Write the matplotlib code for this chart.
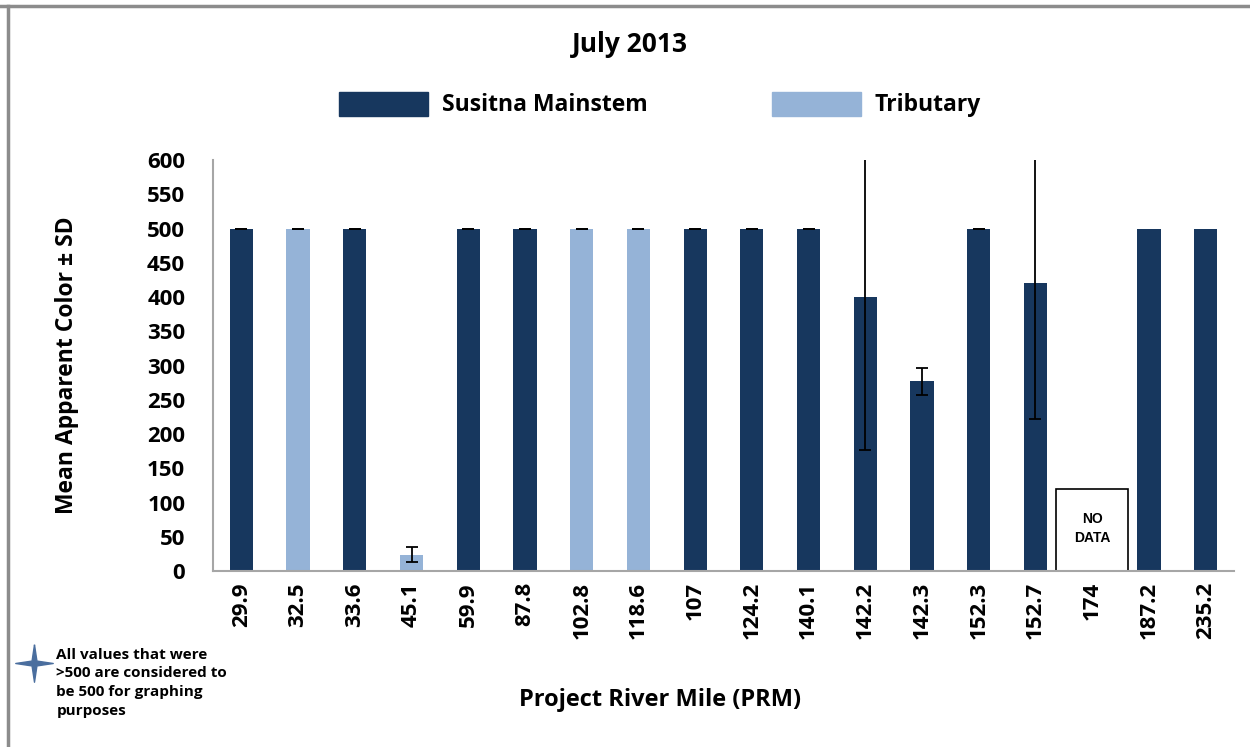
import matplotlib.pyplot as plt
from matplotlib.patches import Patch
from matplotlib.lines import Line2D

plt.rcParams['font.family'] = ['Open Sans', 'DejaVu Sans']

# data
prm = ['29.9', '32.5', '33.6', '45.1', '59.9', '87.8', '102.8', '118.6', '107',
       '124.2', '140.1', '142.2', '142.3', '152.3', '152.7', '174', '187.2', '235.2']
site_type = ['M', 'T', 'M', 'T', 'M', 'M', 'T', 'T', 'M',
             'M', 'M', 'M', 'M', 'M', 'M', 'M', 'M', 'M']
mean_color = [500, 500, 500, 24, 500, 500, 500, 500, 500,
              500, 500, 400, 277, 500, 420, 0, 500, 500]
sd_color = [0, 0, 0, 11, 0, 0, 0, 0, 0,
            0, 0, 223, 20, 0, 198, 0, None, None]
no_data_idx = 15

main_col = '#17375e'
trib_col = '#95b3d7'

fig = plt.figure(figsize=(12.5, 7.47), dpi=100)
ax = fig.add_axes([0.1704, 0.2356, 0.8168, 0.5502])

x = list(range(len(prm)))
colors = [main_col if t == 'M' else trib_col for t in site_type]
ax.bar(x, mean_color, width=0.41, color=colors, zorder=2)

# error bars (only where an SD exists)
ex = [i for i in x if sd_color[i] is not None and i != no_data_idx]
ax.errorbar(ex, [mean_color[i] for i in ex], yerr=[sd_color[i] for i in ex],
            fmt='none', ecolor='black', elinewidth=1.3, capsize=4, capthick=1.3, zorder=3)

# "NO DATA" box
ax.bar(no_data_idx, 120, width=1.27, color='white', edgecolor='black', linewidth=1.2, zorder=2)
ax.text(no_data_idx, 62, 'NO\nDATA', ha='center', va='center', fontsize=10,
        fontweight='bold', family=['Liberation Sans'], linespacing=1.5, zorder=4)

ax.set_xlim(-0.5, len(prm) - 0.5)
ax.set_ylim(0, 600)
ax.set_yticks(range(0, 601, 50))
ax.set_xticks(x)
ax.set_xticklabels(prm, rotation=90, fontsize=16, fontweight='bold')
ax.tick_params(axis='y', labelsize=16, length=0, pad=20)
ax.tick_params(axis='x', length=0, pad=8)
for lab in ax.get_yticklabels():
    lab.set_fontweight('bold')
for s in ['top', 'right']:
    ax.spines[s].set_visible(False)
ax.spines['left'].set_color('#a6a6a6')
ax.spines['bottom'].set_color('#a6a6a6')
ax.spines['left'].set_linewidth(1.5)
ax.spines['bottom'].set_linewidth(1.5)

ax.set_ylabel('Mean Apparent Color ± SD', fontsize=16.5, fontweight='bold', labelpad=49)
fig.text(0.528, 0.063, 'Project River Mile (PRM)', ha='center', va='center',
         fontsize=17, fontweight='bold')
fig.text(0.504, 0.94, 'July 2013', ha='center', va='center', fontsize=19, fontweight='bold')

handles = [Patch(color=main_col, label='Susitna Mainstem'),
           Patch(color=trib_col, label='Tributary')]
fig.legend(handles=handles, loc='center', bbox_to_anchor=(0.528, 0.86), ncol=2,
           frameon=False, prop={'weight': 'bold', 'size': 16.5},
           handlelength=3.9, handleheight=1.25, handletextpad=0.6, columnspacing=5.4)

# footnote with four-pointed star marker
star = [(0, 1), (0.13, 0.13), (1, 0), (0.13, -0.13), (0, -1), (-0.13, -0.13),
        (-1, 0), (-0.13, 0.13), (0, 1)]
fig.add_artist(Line2D([0.027], [0.113], marker=star, markersize=27, color='#4a6e9e',
                      linestyle='none', transform=fig.transFigure))
fig.text(0.045, 0.133, 'All values that were\n>500 are considered to\nbe 500 for graphing\npurposes',
         ha='left', va='top', fontsize=11, fontweight='bold', linespacing=1.42)

# outer frame lines
fig.add_artist(Line2D([0.0, 1.0], [0.992, 0.992], color='#8c8c8c', linewidth=2.5,
                      transform=fig.transFigure))
fig.add_artist(Line2D([0.0065, 0.0065], [0.0, 0.992], color='#8c8c8c', linewidth=2.5,
                      transform=fig.transFigure))

fig.savefig('out.png', dpi=100)
